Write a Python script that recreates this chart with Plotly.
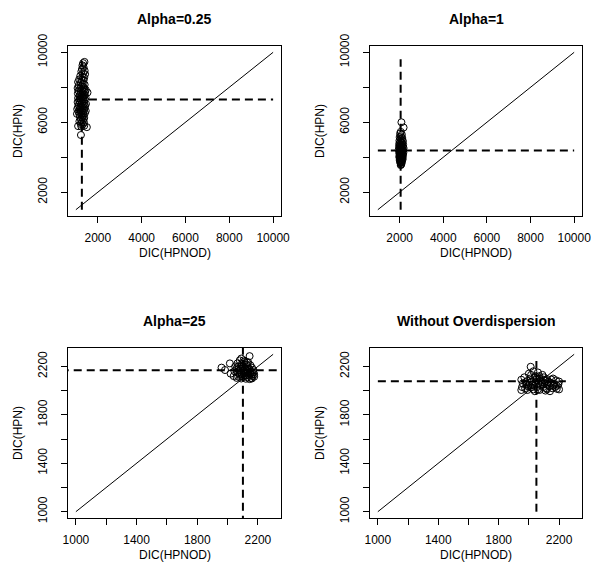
import plotly.graph_objects as go

W, H = 591, 576

# ---------------- data ----------------
titles = ["Alpha=0.25", "Alpha=1", "Alpha=25", "Without Overdispersion"]
x_label = "DIC(HPNOD)"
y_label = "DIC(HPN)"

p1_x = [1390, 1330, 1300, 1350, 1280, 1400, 1250, 1330, 1420, 1200, 1300, 1380, 1150, 1260, 1350,
        1100, 1220, 1310, 1400, 1130, 1250, 1350, 1080, 1190, 1290, 1380, 1450, 1120, 1230, 1330,
        1420, 1530, 1090, 1200, 1300, 1390, 1160, 1260, 1350, 1440, 1100, 1210, 1310, 1400, 1150,
        1250, 1340, 1080, 1190, 1290, 1380, 1460, 1130, 1230, 1330, 1420, 1100, 1200, 1300, 1390,
        1060, 1170, 1270, 1360, 1450, 1120, 1220, 1320, 1410, 1050, 1160, 1260, 1350, 1190, 1290,
        1380, 1230, 1330, 1160, 1270, 1370, 1220, 1320, 1100, 1250, 1500, 1380, 1230]
p1_y = [9450, 9380, 9250, 9150, 9050, 8950, 8900, 8800, 8750, 8650, 8600, 8550, 8450, 8420, 8400,
        8300, 8250, 8200, 8150, 8100, 8050, 8000, 7950, 7920, 7900, 7880, 7850, 7800, 7780, 7750,
        7720, 7700, 7650, 7620, 7600, 7580, 7500, 7480, 7450, 7420, 7380, 7350, 7320, 7300, 7250,
        7220, 7200, 7150, 7120, 7100, 7080, 7050, 7000, 6980, 6950, 6920, 6880, 6850, 6820, 6800,
        6750, 6720, 6700, 6680, 6650, 6600, 6580, 6550, 6520, 6480, 6450, 6420, 6400, 6300, 6280,
        6250, 6150, 6120, 6050, 6000, 5980, 5900, 5880, 5780, 5750, 5720, 5800, 5270]

p2_x = [2080, 2180, 2050, 2020, 2100, 2060, 2000, 2120, 2040, 2090, 1990, 2150, 2030, 2080, 2120,
        1980, 2050, 2160, 2010, 2100, 2070, 1970, 2140, 2030, 2090, 2180, 2000, 2060, 2120, 1960,
        2040, 2160, 2090, 2010, 2130, 2060, 1980, 2100, 2170, 2030, 2080, 1990, 2140, 2050, 2110,
        2000, 2070, 2150, 2020, 2090, 1980, 2120, 2050, 2010, 2100, 2060, 2140, 2030, 2080, 2000,
        2110, 2050, 2070, 2020, 2100, 2060, 2040, 2080, 2060, 2050]
p2_y = [6000, 5700, 5450, 5350, 5300, 5200, 5150, 5100, 5050, 4980, 4950, 4920, 4880, 4850, 4800,
        4780, 4750, 4720, 4700, 4680, 4640, 4620, 4600, 4580, 4550, 4520, 4500, 4480, 4460, 4440,
        4420, 4400, 4380, 4360, 4340, 4320, 4300, 4280, 4260, 4240, 4220, 4200, 4180, 4160, 4140,
        4120, 4100, 4080, 4060, 4040, 4020, 4000, 3980, 3960, 3940, 3920, 3900, 3880, 3860, 3840,
        3820, 3800, 3760, 3740, 3720, 3700, 3660, 3620, 3580, 3550]

p3_x = [1960, 1983, 2015, 2020, 2145, 2090, 2045, 2040, 2050,
        2080, 2110, 2135, 2065, 2095, 2125, 2150, 2070, 2100, 2130, 2160, 2060, 2085, 2115, 2145,
        2170, 2075, 2105, 2135, 2160, 2065, 2090, 2120, 2150, 2175, 2080, 2110, 2140, 2165, 2070,
        2100, 2130, 2155, 2090, 2120, 2145, 2060, 2100, 2125, 2090, 2110, 2140, 2080, 2120, 2150,
        2095, 2070, 2130, 2105, 2170, 2160, 2175, 2160]
p3_y = [2190, 2170, 2225, 2140, 2285, 2265, 2160, 2120, 2200,
        2250, 2240, 2235, 2225, 2220, 2215, 2210, 2200, 2200, 2195, 2190, 2185, 2180, 2178, 2175,
        2170, 2165, 2162, 2158, 2152, 2150, 2148, 2145, 2140, 2135, 2130, 2128, 2125, 2120, 2115,
        2112, 2110, 2105, 2100, 2098, 2095, 2105, 2185, 2170, 2205, 2155, 2185, 2140, 2125, 2160,
        2135, 2180, 2230, 2250, 2150, 2130, 2115, 2100]

p4_x = [2012, 2030, 2000, 2060, 2090, 1950, 1970, 1990, 2010, 2040, 2070, 2100, 2120, 2150, 2180,
        2200, 1960, 1985, 2005, 2025, 2045, 2065, 2085, 2105, 2125, 2145, 2165, 2185, 1955, 1975,
        1995, 2015, 2035, 2055, 2075, 2095, 2115, 2135, 2155, 2175, 2195, 1950, 1990, 2030, 2070,
        2110, 2140, 2185, 2200, 2050, 2020, 2080, 2110, 2000, 2060, 2090, 2130, 2160, 2045, 2015,
        1980, 2160, 2120, 2040, 2070, 2100]
p4_y = [2197, 2160, 2140, 2150, 2130, 2090, 2110, 2080, 2100, 2110, 2100, 2110, 2095, 2090, 2085,
        2075, 2060, 2050, 2065, 2050, 2070, 2055, 2070, 2060, 2050, 2065, 2055, 2040, 2030, 2020,
        2035, 2025, 2040, 2030, 2045, 2030, 2020, 2035, 2020, 2030, 2050, 2005, 2005, 2010, 2005,
        2000, 1995, 2015, 2010, 2090, 2075, 2085, 2080, 2045, 2010, 2050, 2075, 2100, 2120, 2130,
        2070, 2040, 2010, 1995, 2120, 2090]

# reference diagonal end points
diag_top = [1000, 10000]
diag_bottom = [1000, 2300]

# dashed mean lines: (horizontal x-span, horizontal y), (vertical x, vertical y-span)
h_x = [[1000, 10000], [1000, 10000], [900, 2400], [1000, 2245]]
h_y = [7300, 4385, 2169, 2078]
v_x = [1273, 2045, 2101, 2050]
v_y = [[1000, 9500], [1000, 9600], [900, 2400], [1000, 2245]]

top_ticks = [2000, 4000, 6000, 8000, 10000]
top_x_text = ["2000", "4000", "6000", "8000", "10000"]
top_y_text = ["2000", "", "6000", "", "10000"]
bot_ticks = [1000, 1200, 1400, 1600, 1800, 2000, 2200]
bot_text = ["1000", "", "1400", "", "1800", "", "2200"]

# ---------------- layout geometry (pixels) ----------------
boxes = [(68, 281, 46, 216), (370, 582, 46, 216), (68, 281, 348, 518), (370, 582, 348, 518)]
ranges = [[640, 10360], [640, 10360], [948, 2352], [948, 2352]]

FONT = "Liberation Sans, Arial, Helvetica, sans-serif"

fig = go.Figure()
xs = [p1_x, p2_x, p3_x, p4_x]
ys = [p1_y, p2_y, p3_y, p4_y]
for i in range(4):
    xa = "x" if i == 0 else f"x{i+1}"
    ya = "y" if i == 0 else f"y{i+1}"
    d = diag_top if i < 2 else diag_bottom
    fig.add_trace(go.Scatter(x=d, y=d, mode="lines", line=dict(color="black", width=1),
                             xaxis=xa, yaxis=ya, showlegend=False, hoverinfo="skip"))
    fig.add_trace(go.Scatter(x=h_x[i], y=[h_y[i], h_y[i]], mode="lines",
                             line=dict(color="black", width=2, dash="8px,5px"),
                             xaxis=xa, yaxis=ya, showlegend=False, hoverinfo="skip"))
    fig.add_trace(go.Scatter(x=[v_x[i], v_x[i]], y=v_y[i], mode="lines",
                             line=dict(color="black", width=2, dash="8px,5px"),
                             xaxis=xa, yaxis=ya, showlegend=False, hoverinfo="skip"))
    fig.add_trace(go.Scatter(x=xs[i], y=ys[i], mode="markers",
                             marker=dict(symbol="circle-open", size=7, color="black",
                                         line=dict(width=1, color="black")),
                             xaxis=xa, yaxis=ya, showlegend=False))

layout = dict(width=W, height=H, margin=dict(l=0, r=0, t=0, b=0, autoexpand=False),
              template="none",
              paper_bgcolor="white", plot_bgcolor="white", showlegend=False,
              font=dict(family=FONT, size=12, color="black"))
annotations = []
for i in range(4):
    l, r, t, b = boxes[i]
    xk = "xaxis" if i == 0 else f"xaxis{i+1}"
    yk = "yaxis" if i == 0 else f"yaxis{i+1}"
    xa = "x" if i == 0 else f"x{i+1}"
    ya = "y" if i == 0 else f"y{i+1}"
    top = i < 2
    layout[xk] = dict(domain=[l / W, r / W], range=ranges[i], anchor=ya, automargin=False,
                      showgrid=False, zeroline=False, showline=True, mirror=True,
                      linecolor="black", linewidth=1, ticks="outside", ticklen=6,
                      tickcolor="black", tickwidth=1, ticklabeloverflow="allow",
                      tickmode="array", tickvals=top_ticks if top else bot_ticks,
                      ticktext=top_x_text if top else bot_text,
                      tickfont=dict(family=FONT, size=12, color="black"),
                      ticklabelstandoff=5)
    layout[yk] = dict(domain=[1 - b / H, 1 - t / H], range=ranges[i], anchor=xa, automargin=False,
                      showgrid=False, zeroline=False, showline=True, mirror=True,
                      linecolor="black", linewidth=1, ticks="outside", ticklen=6,
                      tickcolor="black", tickwidth=1, ticklabeloverflow="allow",
                      tickmode="array", tickvals=top_ticks if top else bot_ticks,
                      ticktext=top_y_text if top else bot_text,
                      tickangle=-90,
                      tickfont=dict(family=FONT, size=12, color="black"),
                      ticklabelstandoff=9)
    cx = (l + r) / 2
    cy = (t + b) / 2
    annotations.append(dict(text="<b>" + titles[i] + "</b>", x=cx / W, y=1 - (t - 27) / H,
                            xref="paper", yref="paper", showarrow=False,
                            xanchor="center", yanchor="middle",
                            font=dict(family=FONT, size=14, color="black")))
    annotations.append(dict(text=x_label, x=cx / W, y=1 - (b + 37) / H,
                            xref="paper", yref="paper", showarrow=False,
                            xanchor="center", yanchor="middle",
                            font=dict(family=FONT, size=12, color="black")))
    annotations.append(dict(text=y_label, x=(l - 50) / W, y=1 - cy / H,
                            xref="paper", yref="paper", showarrow=False, textangle=-90,
                            xanchor="center", yanchor="middle",
                            font=dict(family=FONT, size=12, color="black")))
layout["annotations"] = annotations
fig.update_layout(**layout)
fig.write_html("out.html", config={"displayModeBar": False},
               post_script="document.body.style.margin='0';document.body.style.padding='0';")
